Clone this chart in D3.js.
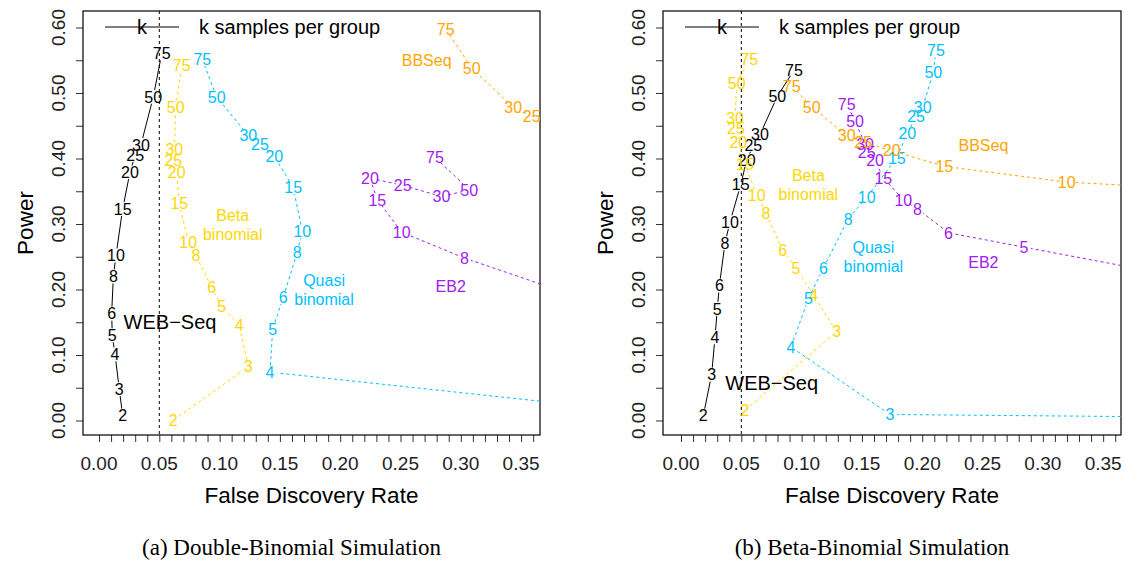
<!DOCTYPE html>
<html>
<head>
<meta charset="UTF-8">
<title>Power vs FDR</title>
<script src="https://cdnjs.cloudflare.com/ajax/libs/d3/7.8.5/d3.min.js"></script>
<style>
  body { margin: 0; background: #fff; }
  svg { font-family: Arial, "Liberation Sans", sans-serif; }
</style>
</head>
<body>
<script>

// k = samples per group, shared by every series (null = not shown)
var kValues = [2, 3, 4, 5, 6, 8, 10, 15, 20, 25, 30, 50, 75];

// (a) Double-Binomial simulation
var webFdrA   = [0.0196, 0.0168, 0.0133, 0.011, 0.0105, 0.0119, 0.0141, 0.0196, 0.0257, 0.030, 0.0348, 0.045, 0.052];
var webPowA   = [0.0076, 0.048, 0.101, 0.130, 0.163, 0.220, 0.252, 0.323, 0.379, 0.405, 0.421, 0.494, 0.560];
var betaFdrA  = [0.0616, 0.1238, 0.1163, 0.1017, 0.0934, 0.0804, 0.074, 0.0666, 0.0644, 0.0616, 0.0625, 0.0636, 0.0686];
var betaPowA  = [0.0, 0.0824, 0.146, 0.174, 0.2035, 0.252, 0.272, 0.332, 0.379, 0.398, 0.414, 0.478, 0.542];
var quasiFdrA = [null, 0.50, 0.1418, 0.144, 0.1528, 0.1644, 0.1686, 0.161, 0.1454, 0.1335, 0.1238, 0.0976, 0.0857];
var quasiPowA = [null, 0.003, 0.0738, 0.140, 0.188, 0.257, 0.2885, 0.356, 0.403, 0.422, 0.435, 0.494, 0.551];
var eb2FdrA   = [null, null, null, null, 0.40, 0.303, 0.251, 0.2308, 0.2247, 0.2518, 0.284, 0.307, 0.2786];
var eb2PowA   = [null, null, null, null, 0.187, 0.248, 0.2875, 0.337, 0.370, 0.359, 0.342, 0.352, 0.402];
var bbFdrA    = [null, null, null, null, null, null, null, null, 0.40, 0.3588, 0.3435, 0.309, 0.2875];
var bbPowA    = [null, null, null, null, null, null, null, null, 0.428, 0.464, 0.478, 0.538, 0.598];

// (b) Beta-Binomial simulation
var webFdrB   = [0.0185, 0.0254, 0.0282, 0.0301, 0.0318, 0.0365, 0.0406, 0.0495, 0.0545, 0.060, 0.0655, 0.0799, 0.0937];
var webPowB   = [0.0076, 0.070, 0.127, 0.1705, 0.206, 0.271, 0.303, 0.360, 0.398, 0.420, 0.4366, 0.495, 0.535];
var betaFdrB  = [0.053, 0.129, 0.110, 0.0954, 0.0843, 0.0705, 0.0628, 0.053, 0.0475, 0.0456, 0.0448, 0.0462, 0.0566];
var betaPowB  = [0.0153, 0.136, 0.191, 0.2325, 0.2595, 0.3165, 0.3435, 0.392, 0.425, 0.446, 0.462, 0.515, 0.551];
var quasiFdrB = [0.45, 0.1733, 0.0912, 0.1056, 0.118, 0.1387, 0.154, 0.1789, 0.1876, 0.1949, 0.2004, 0.2092, 0.2114];
var quasiPowB = [0.0047, 0.0092, 0.112, 0.186, 0.2325, 0.308, 0.341, 0.401, 0.4386, 0.464, 0.478, 0.532, 0.565];
var eb2FdrB   = [null, null, 0.40, 0.2844, 0.2217, 0.196, 0.1843, 0.1677, 0.1609, 0.154, 0.1526, 0.1443, 0.1374];
var eb2PowB   = [null, null, 0.2245, 0.2646, 0.2866, 0.323, 0.337, 0.3705, 0.397, 0.4096, 0.4224, 0.457, 0.4835];
var bbFdrB    = [null, null, null, null, null, 0.40, 0.3198, 0.2183, 0.1747, 0.151, 0.1374, 0.1084, 0.0918];
var bbPowB    = [null, null, null, null, null, 0.356, 0.364, 0.388, 0.412, 0.425, 0.435, 0.479, 0.510];

var xTickValues = d3.range(0, 37).map(function(i){ return i / 100; });
var xTickLabels = ["0.00", "0.05", "0.10", "0.15", "0.20", "0.25", "0.30", "0.35"];
var yTickValues = d3.range(0, 13).map(function(i){ return i * 0.05; });
var yTickLabels = ["0.00", "0.10", "0.20", "0.30", "0.40", "0.50", "0.60"];

var methodNames  = ["WEB\u2212Seq", "Beta\nbinomial", "Quasi\nbinomial", "EB2", "BBSeq"];
var methodColors = ["#000000", "#FFD700", "#00BFFF", "#A020F0", "#FFA500"];

var width = 1126, height = 563;

var svg = d3.select("body").append("svg")
    .attr("width", width)
    .attr("height", height);

var panels = [
    {id: "a", left: 83, right: 540, xDom: [-0.01327, 0.36567], caption: "(a) Double-Binomial Simulation",
     fdr: [webFdrA, betaFdrA, quasiFdrA, eb2FdrA, bbFdrA], pow: [webPowA, betaPowA, quasiPowA, eb2PowA, bbPowA],
     // method label spots, in data units
     labelAt: [[0.0589, 0.151], [0.1109, 0.299], [0.1866, 0.200], [0.2916, 0.2053], [0.2717, 0.5504]]},
    {id: "b", left: 663, right: 1121, xDom: [-0.01493, 0.3648], caption: "(b) Beta-Binomial Simulation",
     fdr: [webFdrB, betaFdrB, quasiFdrB, eb2FdrB, bbFdrB], pow: [webPowB, betaPowB, quasiPowB, eb2PowB, bbPowB],
     labelAt: [[0.0752, 0.0568], [0.1056, 0.3603], [0.1595, 0.250], [0.2507, 0.241], [0.2507, 0.4206]]}
];

var plotTop = 11, plotBottom = 435;
var gap = 7;   // gap left around each k label (like R type="c")

panels.forEach(function(p){
    var x = d3.scaleLinear().domain(p.xDom).range([p.left, p.right]);
    var y = d3.scaleLinear().domain([-0.02214, 0.6252]).range([plotBottom, plotTop]);
    var g = svg.append("g");

    g.append("clipPath").attr("id", "clip-" + p.id)
        .append("rect")
        .attr("x", p.left).attr("y", plotTop)
        .attr("width", p.right - p.left).attr("height", plotBottom - plotTop);

    // x axis: ticks every 0.01, labels every 0.05
    var xAxis = d3.axisBottom(x).tickValues(xTickValues).tickSize(7).tickFormat("");
    var xa = g.append("g").attr("transform", "translate(0," + plotBottom + ")").call(xAxis);
    xa.select(".domain").remove();
    xa.selectAll("line").attr("stroke", "#333");

    g.selectAll(".xlab").data(xTickLabels).enter().append("text")
        .attr("x", function(d){ return x(+d); })
        .attr("y", plotBottom + 35)
        .attr("text-anchor", "middle")
        .attr("font-size", 19)
        .attr("fill", "#222")
        .text(function(d){ return d; });

    // y axis: ticks every 0.05, labels every 0.10, rotated like R
    var yAxis = d3.axisLeft(y).tickValues(yTickValues).tickSize(7).tickFormat("");
    var ya = g.append("g").attr("transform", "translate(" + p.left + ",0)").call(yAxis);
    ya.select(".domain").remove();
    ya.selectAll("line").attr("stroke", "#333");

    g.selectAll(".ylab").data(yTickLabels).enter().append("text")
        .attr("transform", function(d){ return "translate(" + (p.left - 18) + "," + y(+d) + ") rotate(-90)"; })
        .attr("text-anchor", "middle")
        .attr("font-size", 19)
        .attr("fill", "#222")
        .text(function(d){ return d; });

    // axis titles
    g.append("text")
        .attr("x", (p.left + p.right) / 2)
        .attr("y", 503)
        .attr("text-anchor", "middle")
        .attr("font-size", 22.5)
        .text("False Discovery Rate");

    g.append("text")
        .attr("transform", "translate(" + (p.left - 50) + "," + ((plotTop + plotBottom) / 2) + ") rotate(-90)")
        .attr("text-anchor", "middle")
        .attr("font-size", 22.5)
        .text("Power");

    // caption
    g.append("text")
        .attr("x", (p.left + p.right) / 2 - 20)
        .attr("y", 555)
        .attr("text-anchor", "middle")
        .style("font-family", "'Liberation Serif', 'Times New Roman', serif")
        .attr("font-size", 23)
        .text(p.caption);

    // frame
    g.append("rect")
        .attr("x", p.left).attr("y", plotTop)
        .attr("width", p.right - p.left).attr("height", plotBottom - plotTop)
        .attr("fill", "none").attr("stroke", "#000").attr("stroke-width", 1.2);

    var plot = g.append("g").attr("clip-path", "url(#clip-" + p.id + ")");

    // FDR = 0.05 reference line
    plot.append("line")
        .attr("x1", x(0.05)).attr("x2", x(0.05))
        .attr("y1", plotTop).attr("y2", plotBottom)
        .attr("stroke", "#000").attr("stroke-dasharray", "3,3");

    methodNames.forEach(function(name, m){
        var pts = [];
        kValues.forEach(function(k, i){
            if (p.fdr[m][i] !== null) pts.push({k: k, px: x(p.fdr[m][i]), py: y(p.pow[m][i])});
        });

        // broken lines between labels
        var segs = [];
        for (var i = 0; i < pts.length - 1; i++) {
            var a = pts[i], b = pts[i + 1];
            var dx = b.px - a.px, dy = b.py - a.py, d = Math.sqrt(dx * dx + dy * dy);
            if (d > 2 * gap) {
                segs.push({x1: a.px + dx / d * gap, y1: a.py + dy / d * gap,
                           x2: b.px - dx / d * gap, y2: b.py - dy / d * gap});
            }
        }
        plot.selectAll(".seg" + m).data(segs).enter().append("line")
            .attr("x1", function(d){ return d.x1; }).attr("y1", function(d){ return d.y1; })
            .attr("x2", function(d){ return d.x2; }).attr("y2", function(d){ return d.y2; })
            .attr("stroke", methodColors[m])
            .attr("stroke-width", 1)
            .attr("stroke-dasharray", m === 0 ? null : "3,3");

        plot.selectAll(".k" + m).data(pts).enter().append("text")
            .attr("x", function(d){ return d.px; })
            .attr("y", function(d){ return d.py; })
            .attr("dy", "0.36em")
            .attr("text-anchor", "middle")
            .attr("font-size", 16)
            .attr("fill", methodColors[m])
            .text(function(d){ return d.k; });

        // method name
        var lines = name.split("\n");
        var lx = x(p.labelAt[m][0]), ly = y(p.labelAt[m][1]);
        lines.forEach(function(t, j){
            plot.append("text")
                .attr("x", lx)
                .attr("y", ly + (j - (lines.length - 1) / 2) * 19.5)
                .attr("dy", "0.36em")
                .attr("text-anchor", "middle")
                .attr("font-size", m === 0 ? 20 : 16)
                .attr("fill", methodColors[m])
                .text(t);
        });
    });

    // legend
    var lg = g.append("g");
    lg.append("line")
        .attr("x1", p.left + 22).attr("x2", p.left + 96)
        .attr("y1", 27).attr("y2", 27)
        .attr("stroke", "#000");
    lg.append("text")
        .attr("x", p.left + 59).attr("y", 27).attr("dy", "0.36em")
        .attr("text-anchor", "middle").attr("font-size", 20)
        .text("k");
    lg.append("text")
        .attr("x", p.left + 116).attr("y", 27).attr("dy", "0.36em")
        .attr("font-size", 20)
        .text("k samples per group");
});

</script>
</body>
</html>
